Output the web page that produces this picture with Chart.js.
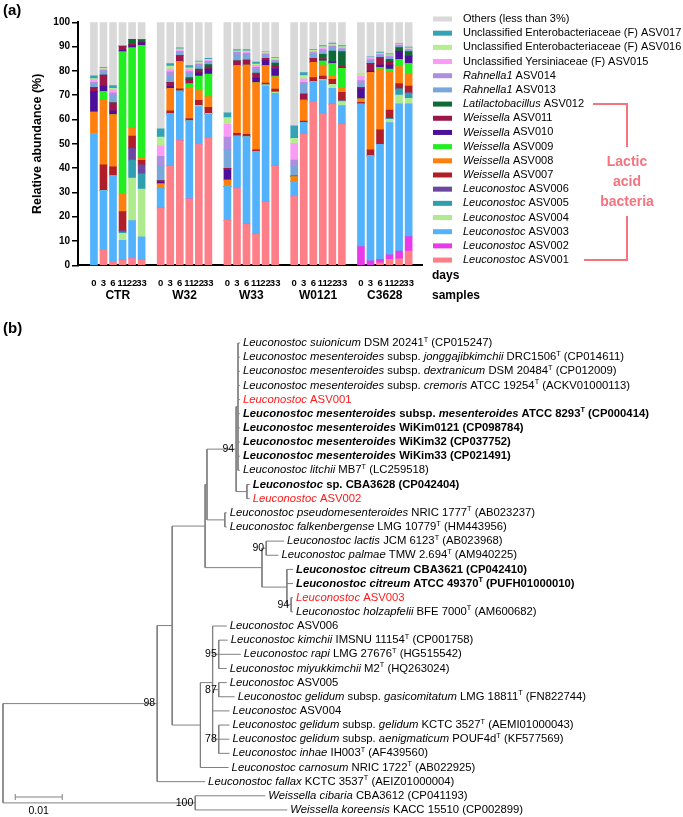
<!DOCTYPE html>
<html lang="en">
<head>
<meta charset="UTF-8">
<title>Relative abundance and Leuconostoc tree</title>
<script src="https://cdn.jsdelivr.net/npm/chart.js"></script>
<style>
  body { margin: 0; background: #fff; }
  #wrap { position: relative; width: 683px; height: 817px; }
  #barBox { position: absolute; left: 0; top: 0; width: 683px; height: 315px; }
  #treeBox { position: absolute; left: 0; top: 315px; width: 683px; height: 502px; }
</style>
</head>
<body>
<div id="wrap">
  <div id="barBox"><canvas id="bars"></canvas></div>
  <div id="treeBox"><canvas id="tree"></canvas></div>
</div>
<script>
// ---------- panel (a) data ----------
const groups = ['CTR', 'W32', 'W33', 'W0121', 'C3628'];
const days = ['0', '3', '6', '11', '22', '33'];

// each array: CTR d0..d33, W32 d0..d33, W33 ..., W0121 ..., C3628 ...
const asv001 = [0, 6.2, 1.5, 2.1, 2.8, 2.3,  23.5, 40.9, 51.3, 27.4, 49.7, 52.3,  18.5, 31.6, 17.0, 12.9, 26.2, 40.9,  28.3, 54.0, 67.1, 62.1, 66.3, 58.2,  0, 0, 1.0, 2.5, 2.7, 5.9];
const asv002 = [0, 0, 0, 0, 0, 0,  0, 0, 0, 0, 0, 0,  0, 0, 0, 0, 0, 0,  0, 0, 0, 0, 0, 0,  7.7, 1.8, 1.5, 1.8, 3.2, 5.9];
const asv003 = [54.2, 24.5, 35.3, 8.2, 15.6, 9.4,  8.1, 21.4, 20.4, 32.1, 15.6, 9.8,  13.9, 21.6, 35.9, 33.9, 47.7, 29.9,  6.1, 4.8, 8.5, 13.9, 6.5, 7.5,  58.6, 43.2, 47.3, 54.4, 60.5, 54.6];
const asv004 = [0, 0, 0, 2.9, 17.5, 19.7,  0, 0, 0, 0, 0.4, 0.3,  0, 0, 0, 0, 0.4, 0.5,  0, 0, 0, 0.4, 1.7, 1.7,  0, 0, 0, 1.4, 3.7, 2.3];
const asv005 = [0, 0, 0, 0.5, 7.4, 6.2,  0, 0, 0, 0, 0, 0,  0, 0, 0, 0, 0, 0,  0, 0, 0, 0, 0, 0.3,  0, 0, 0, 0.3, 2.5, 2.1];
const asv006 = [0, 0, 0, 0.6, 4.8, 3.7,  0, 0, 0, 0, 0, 0,  0, 0, 0, 0, 0, 0,  0, 0, 0, 0, 0, 0,  0, 0, 0, 0, 0, 0.3];
const asv007 = [0, 10.6, 3.7, 7.8, 5.1, 1.9,  0, 1.3, 0.9, 0.9, 2.2, 2.6,  0, 1.1, 1.0, 0.7, 0.7, 1.2,  0, 0.6, 1.6, 1.5, 2.0, 3.5,  0.8, 2.5, 5.9, 3.5, 2.2, 2.7];
const asv008 = [8.9, 27.0, 21.5, 7.1, 3.4, 1.1,  1.9, 9.2, 11.2, 12.4, 4.0, 4.4,  2.7, 27.9, 28.5, 27.7, 7.2, 5.1,  2.1, 8.6, 6.3, 4.5, 1.4, 1.9,  1.4, 31.9, 25.0, 15.5, 7.0, 4.8];
const asv009 = [0, 3.3, 0, 58.7, 33.0, 46.2,  0, 0, 0, 2.0, 6.0, 9.3,  0, 0, 0, 0, 0, 0.3,  0, 0, 0, 1.7, 5.2, 8.0,  0, 0, 0.8, 1.3, 3.0, 4.5];
const asv010 = [8.4, 2.2, 1.6, 0.6, 0.8, 1.1,  0.7, 0.9, 0, 0, 1.3, 2.0,  4.1, 0, 0, 1.8, 2.0, 3.1,  0.1, 0, 0, 0.5, 0.5, 0.3,  4.1, 0.5, 0.9, 1.7, 3.1, 2.9];
const asv011 = [1.6, 4.5, 3.3, 1.6, 0.5, 0.3,  0.7, 1.6, 2.5, 1.7, 0.9, 0.9,  0.7, 1.9, 2.1, 1.6, 1.0, 1.0,  0.1, 2.5, 1.7, 0.5, 0.3, 0.6,  0.5, 3.2, 3.1, 1.4, 0.3, 0.3];
const asv012 = [0, 0, 0, 0, 2.1, 1.0,  0, 0, 0, 0.8, 0.7, 1.0,  0, 0, 0, 0.5, 0, 1.2,  0, 0, 0, 1.7, 4.3, 5.9,  0, 0, 0, 1.0, 1.4, 1.6];
const asv013 = [1.6, 1.4, 3.0, 0.3, 0, 0,  6.1, 2.6, 1.2, 1.6, 1.3, 0.8,  7.8, 2.5, 2.1, 1.5, 1.0, 0.6,  4.1, 4.0, 1.6, 1.2, 1.3, 0.8,  1.4, 1.0, 0.7, 0.6, 0.5, 0.5];
const asv014 = [0.6, 0.5, 1.1, 0, 0, 0,  3.8, 1.7, 0.6, 0.8, 0.6, 0.5,  5.1, 1.0, 0.6, 0.9, 0.7, 0.5,  2.5, 0.8, 0.7, 0.8, 0.6, 0.5,  1.5, 0.6, 0.5, 0.5, 0.4, 0.4];
const asv015 = [1.0, 0.6, 1.2, 0, 0, 0,  4.4, 1.2, 0.6, 1.0, 0.5, 0.4,  5.2, 0.3, 0.8, 0.8, 0.4, 0.4,  6.8, 1.4, 0.6, 0.7, 0.5, 0.4,  1.8, 0.5, 0.3, 0.5, 0.3, 0.3];
const asv016 = [0.5, 0.4, 0.6, 0, 0, 0,  3.6, 1.2, 0.4, 0.6, 0.5, 0.5,  2.8, 0.4, 0.3, 0.5, 0.5, 0.5,  2.1, 1.4, 0.4, 0.5, 0.4, 0.4,  1.2, 0.3, 0.3, 0.3, 0.3, 0.4];
const asv017 = [1.2, 0.3, 1.2, 0.1, 0, 0,  3.4, 1.0, 0.4, 0.9, 0.3, 0.4,  1.9, 0.5, 0.5, 0.8, 0.2, 0.3,  5.2, 1.2, 0.3, 0.4, 0.5, 0.4,  0, 0.3, 0.4, 0.3, 0.2, 0.3];
const others = [22.0, 18.5, 26.0, 9.5, 7.0, 7.1,  43.8, 17.0, 10.5, 17.8, 16.0, 14.8,  37.3, 11.2, 11.2, 16.4, 12.0, 14.5,  42.6, 20.7, 11.2, 9.6, 8.5, 9.6,  21.0, 14.2, 12.3, 13.0, 8.7, 10.2];

// bottom of stack first; *...* = italic
const seriesNames = [
  '*Leuconostoc* ASV001', '*Leuconostoc* ASV002', '*Leuconostoc* ASV003', '*Leuconostoc* ASV004',
  '*Leuconostoc* ASV005', '*Leuconostoc* ASV006', '*Weissella* ASV007', '*Weissella* ASV008',
  '*Weissella* ASV009', '*Weissella* ASV010', '*Weissella* ASV011', '*Latilactobacillus* ASV012',
  '*Rahnella1* ASV013', '*Rahnella1* ASV014', 'Unclassified Yersiniaceae (F) ASV015',
  'Unclassified Enterobacteriaceae (F) ASV016', 'Unclassified Enterobacteriaceae (F) ASV017',
  'Others (less than 3%)'
];
const seriesColors = [
  '#ff7f88', '#e93ae9', '#52b2fb', '#b0ea8e', '#2f9fb0', '#6c479f', '#b01f27', '#ff800f',
  '#22ee22', '#4c0f9a', '#9c164a', '#0e6b36', '#7aa7da', '#ae8fdf', '#fa9cf6', '#b6ed8f',
  '#35a3b7', '#d9d9d9'
];
const seriesValues = [asv001, asv002, asv003, asv004, asv005, asv006, asv007, asv008, asv009,
  asv010, asv011, asv012, asv013, asv014, asv015, asv016, asv017, others];

// ---------- panel (b) data ----------
// ^...^ = superscript, *...* = italic, prefix B| bold, R| red
const treeLabels = [
  '*Leuconostoc suionicum* DSM 20241^T^ (CP015247)',
  '*Leuconostoc mesenteroides* subsp. *jonggajibkimchii* DRC1506^T^ (CP014611)',
  '*Leuconostoc mesenteroides* subsp. *dextranicum* DSM 20484^T^ (CP012009)',
  '*Leuconostoc mesenteroides* subsp. *cremoris* ATCC 19254^T^ (ACKV01000113)',
  'R|*Leuconostoc* ASV001',
  'B|*Leuconostoc mesenteroides* subsp. *mesenteroides* ATCC 8293^T^ (CP000414)',
  'B|*Leuconostoc mesenteroides* WiKim0121 (CP098784)',
  'B|*Leuconostoc mesenteroides* WiKim32 (CP037752)',
  'B|*Leuconostoc mesenteroides* WiKim33 (CP021491)',
  '*Leuconostoc litchii* MB7^T^ (LC259518)',
  'B|*Leuconostoc* sp. CBA3628 (CP042404)',
  'R|*Leuconostoc* ASV002',
  '*Leuconostoc pseudomesenteroides* NRIC 1777^T^ (AB023237)',
  '*Leuconostoc falkenbergense* LMG 10779^T^ (HM443956)',
  '*Leuconostoc lactis* JCM 6123^T^ (AB023968)',
  '*Leuconostoc palmae* TMW 2.694^T^ (AM940225)',
  'B|*Leuconostoc citreum* CBA3621 (CP042410)',
  'B|*Leuconostoc citreum* ATCC 49370^T^ (PUFH01000010)',
  'R|*Leuconostoc* ASV003',
  '*Leuconostoc holzapfelii* BFE 7000^T^ (AM600682)',
  '*Leuconostoc* ASV006',
  '*Leuconostoc kimchii* IMSNU 11154^T^ (CP001758)',
  '*Leuconostoc rapi* LMG 27676^T^ (HG515542)',
  '*Leuconostoc miyukkimchii* M2^T^ (HQ263024)',
  '*Leuconostoc* ASV005',
  '*Leuconostoc gelidum* subsp. *gasicomitatum* LMG 18811^T^ (FN822744)',
  '*Leuconostoc* ASV004',
  '*Leuconostoc gelidum* subsp. *gelidum* KCTC 3527^T^ (AEMI01000043)',
  '*Leuconostoc gelidum* subsp. *aenigmaticum* POUF4d^T^ (KF577569)',
  '*Leuconostoc inhae* IH003^T^ (AF439560)',
  '*Leuconostoc carnosum* NRIC 1722^T^ (AB022925)',
  '*Leuconostoc fallax* KCTC 3537^T^ (AEIZ01000004)',
  '*Weissella cibaria* CBA3612 (CP041193)',
  '*Weissella koreensis* KACC 15510 (CP002899)'
];
// Ln = treeLabels[n-1]; internal labels are bootstrap values
const treeNewick = '(((((((L1:0.0004,L2:0.0004,L3:0.0004,L4:0.0004,L5:0.0004,L6:0.0004,L7:0.0004,L8:0.0004,L9:0.0004,L10:0.0004):0.0004,(L11:0.0006,L12:0.0006):0.0023)94:0.0062,(L13:0.0004,L14:0.0004):0.0038):0.0004,((L15:0.0038,L16:0.0026)90:0.0009,(L17:0.0013,L18:0.0013,(L19:0.0004,L20:0.0004)94:0.0009):0.0053):0.0121):0.0070,((L21:0.0030,(L22:0.0019,L23:0.0047,L24:0.0017)95:0.0013,(L25:0.0017,L26:0.0034)87:0.0013,L27:0.0036,(L28:0.0023,L29:0.0023,L30:0.0023)78:0.0013):0.0026,L31:0.0060):0.0060):0.0032,L32:0.0102)98:0.0328,(L33:0.0149,L34:0.0196)100:0.0409);';
const scaleBarLength = 0.01;

// ---------- helpers ----------
const FAM = '"Liberation Sans", Arial, sans-serif';
Chart.defaults.font.family = FAM;
Chart.defaults.color = '#000';

function drawRich(ctx, str, x, y, size, bold, color) {
  const parts = [];
  let it = false, sup = false, buf = '';
  for (const ch of str) {
    if (ch === '*' || ch === '^') {
      if (buf) parts.push({ t: buf, it, sup });
      buf = '';
      if (ch === '*') it = !it; else sup = !sup;
    } else buf += ch;
  }
  if (buf) parts.push({ t: buf, it, sup });
  ctx.fillStyle = color;
  ctx.textBaseline = 'middle';
  ctx.textAlign = 'left';
  let cx = x;
  for (const p of parts) {
    const fs = p.sup ? size * 0.65 : size;
    ctx.font = (p.it ? 'italic ' : '') + (bold ? 'bold ' : '') + fs + 'px ' + FAM;
    ctx.fillText(p.t, cx, p.sup ? y - size * 0.3 : y);
    cx += ctx.measureText(p.t).width;
  }
  return cx;
}

// ---------- panel (a) chart ----------
const barPos = [];
groups.forEach((g, gi) => days.forEach((d, di) => barPos.push(gi * 7 + di)));

const barDatasets = seriesValues.map((vals, s) => ({
  label: seriesNames[s],
  data: vals.map((v, k) => ({ x: barPos[k], y: v })),
  backgroundColor: seriesColors[s],
  borderWidth: 0,
  barThickness: 7
}));

const panelA = {
  id: 'panelA',
  afterDraw(chart) {
    const { ctx, scales: { x } } = chart;
    ctx.save();
    ctx.fillStyle = '#000';
    ctx.textBaseline = 'top';
    ctx.textAlign = 'left';
    ctx.font = 'bold 15px ' + FAM;
    ctx.fillText('(a)', 3, 3);

    // group names
    ctx.font = 'bold 12px ' + FAM;
    ctx.textAlign = 'center';
    ctx.textBaseline = 'middle';
    groups.forEach((g, gi) => ctx.fillText(g, x.getPixelForValue(gi * 7 + 2.5), 296));
    ctx.textAlign = 'left';
    ctx.fillText('days', 432, 276);
    ctx.fillText('samples', 432, 296);

    // legend, top of stack first
    const ds = chart.data.datasets;
    for (let k = 0; k < ds.length; k++) {
      const d = ds[ds.length - 1 - k];
      const yy = 19 + k * 14.18;
      ctx.fillStyle = d.backgroundColor;
      ctx.fillRect(433, yy - 2.5, 19, 5);
      drawRich(ctx, d.label, 463, yy, 11, false, '#000');
    }

    // lactic acid bacteria bracket
    const pink = '#f4737f';
    ctx.strokeStyle = pink;
    ctx.lineWidth = 2;
    ctx.beginPath();
    ctx.moveTo(593, 104); ctx.lineTo(627, 104); ctx.lineTo(627, 147);
    ctx.moveTo(627, 216); ctx.lineTo(627, 260); ctx.lineTo(584, 260);
    ctx.stroke();
    ctx.fillStyle = pink;
    ctx.font = 'bold 14px ' + FAM;
    ctx.textAlign = 'center';
    ctx.fillText('Lactic', 627, 162);
    ctx.fillText('acid', 627, 182);
    ctx.fillText('bacteria', 627, 202);
    ctx.restore();
  }
};

new Chart(document.getElementById('bars'), {
  type: 'bar',
  data: { datasets: barDatasets },
  options: {
    responsive: true,
    maintainAspectRatio: false,
    animation: false,
    layout: { padding: { top: 22.3, right: 261, left: 0, bottom: 0 } },
    plugins: { legend: { display: false }, tooltip: { enabled: false } },
    scales: {
      x: {
        type: 'linear',
        stacked: true,
        min: -1.07,
        max: 33.8,
        afterBuildTicks: s => { s.ticks = barPos.map(v => ({ value: v })); },
        afterFit: s => { s.height = 49.7; },
        grid: { display: false },
        border: { display: true, color: '#000', width: 2 },
        ticks: {
          autoSkip: false, maxRotation: 0, padding: 4,
          font: { size: 9.5, weight: 'bold' },
          callback: (v, i) => days[i % days.length]
        }
      },
      y: {
        stacked: true,
        min: 0,
        max: 100,
        afterFit: s => { s.width = 78; },
        grid: { drawOnChartArea: false, drawTicks: true, tickLength: 6, color: '#000', lineWidth: 1.5 },
        border: { display: true, color: '#000', width: 2 },
        ticks: { stepSize: 10, padding: 2, font: { size: 10, weight: 'bold' } },
        title: { display: true, text: 'Relative abundance (%)', font: { size: 12.5, weight: 'bold' }, padding: { top: 30 } }
      }
    }
  },
  plugins: [panelA]
});

// ---------- panel (b) tree ----------
function parseNewick(s) {
  let i = 0;
  function node() {
    const n = { children: [] };
    if (s[i] === '(') {
      i++;
      n.children.push(node());
      while (s[i] === ',') { i++; n.children.push(node()); }
      i++;
    }
    let name = '';
    while (i < s.length && !',):;'.includes(s[i])) name += s[i++];
    n.name = name;
    n.len = 0;
    if (s[i] === ':') {
      i++;
      let num = '';
      while (i < s.length && !',);'.includes(s[i])) num += s[i++];
      n.len = parseFloat(num);
    }
    return n;
  }
  return node();
}

const treeRoot = parseNewick(treeNewick);
const leaves = [], inner = [];
(function place(n, base) {
  n.x = base + n.len;
  if (!n.children.length) {
    n.y = leaves.length;
    n.label = treeLabels[parseInt(n.name.slice(1), 10) - 1];
    leaves.push(n);
  } else {
    n.children.forEach(c => place(c, n.x));
    n.y = (n.children[0].y + n.children[n.children.length - 1].y) / 2;
    inner.push(n);
  }
})(treeRoot, 0);

const branchPts = [];
inner.forEach(n => {
  const first = n.children[0], last = n.children[n.children.length - 1];
  branchPts.push({ x: n.x, y: first.y }, { x: n.x, y: last.y }, { x: null, y: null });
  n.children.forEach(c => branchPts.push({ x: n.x, y: c.y }, { x: c.x, y: c.y }, { x: null, y: null }));
});

const panelB = {
  id: 'panelB',
  afterDraw(chart) {
    const { ctx, scales: { x, y } } = chart;
    ctx.save();
    ctx.fillStyle = '#000';
    ctx.textBaseline = 'top';
    ctx.font = 'bold 15px ' + FAM;
    ctx.fillText('(b)', 3, 6);

    leaves.forEach(n => {
      let txt = n.label, bold = false, color = '#000';
      if (txt.startsWith('B|')) { bold = true; txt = txt.slice(2); }
      if (txt.startsWith('R|')) { color = '#ff1a1a'; txt = txt.slice(2); }
      drawRich(ctx, txt, x.getPixelForValue(n.x) + 3, y.getPixelForValue(n.y), 11.3, bold, color);
    });

    // bootstrap values, left of their node
    ctx.fillStyle = '#000';
    ctx.font = '10.5px ' + FAM;
    ctx.textAlign = 'right';
    ctx.textBaseline = 'middle';
    inner.forEach(n => {
      if (n.name) ctx.fillText(n.name, x.getPixelForValue(n.x) - 2, y.getPixelForValue(n.y));
    });

    // scale bar
    const x0 = x.getPixelForValue(0.0026), x1 = x.getPixelForValue(0.0026 + scaleBarLength);
    const yb = 482;
    ctx.strokeStyle = '#808080';
    ctx.lineWidth = 1;
    ctx.beginPath();
    ctx.moveTo(x0, yb); ctx.lineTo(x1, yb);
    ctx.moveTo(x0, yb - 3); ctx.lineTo(x0, yb + 3);
    ctx.moveTo(x1, yb - 3); ctx.lineTo(x1, yb + 3);
    ctx.stroke();
    ctx.textAlign = 'center';
    ctx.textBaseline = 'middle';
    ctx.fillText('0.01', (x0 + x1) / 2, 496);
    ctx.restore();
  }
};

new Chart(document.getElementById('tree'), {
  type: 'scatter',
  data: {
    datasets: [{
      data: branchPts,
      showLine: true,
      spanGaps: false,
      borderColor: '#808080',
      borderWidth: 1,
      pointRadius: 0,
      tension: 0
    }]
  },
  options: {
    responsive: true,
    maintainAspectRatio: false,
    animation: false,
    layout: { padding: 0 },
    plugins: { legend: { display: false }, tooltip: { enabled: false } },
    scales: {
      x: { type: 'linear', display: false, min: -3 / 4700, max: 680 / 4700 },
      y: { type: 'linear', display: false, reverse: true, min: -28 / 14.15, max: 474 / 14.15 }
    }
  },
  plugins: [panelB]
});
</script>
</body>
</html>
